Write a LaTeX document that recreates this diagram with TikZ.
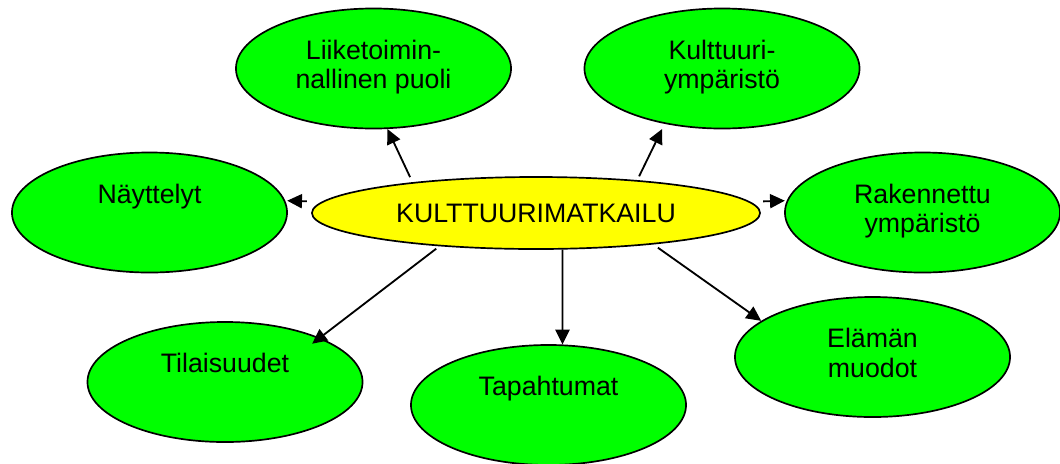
\documentclass[tikz,border=0pt]{standalone}
\usepackage{fontspec}
\setmainfont{Liberation Sans}
\usepackage{tikz}
\usetikzlibrary{arrows.meta, shapes.geometric}
\definecolor{mYellow}{HTML}{FFFF00}
\definecolor{mGreen}{HTML}{00FF00}

\begin{document}
\begin{tikzpicture}[x=0.025cm, y=-0.025cm,
      hub/.style={ellipse, draw, line width=1.2pt, fill=mYellow, minimum width=11.2cm, minimum height=1.8cm,
        font=\fontsize{19}{21}\selectfont, inner sep=0pt},
      topic/.style={ellipse, draw, line width=1.2pt, fill=mGreen, minimum width=6.875cm, minimum height=3cm},
      lbl/.style={font=\fontsize{19}{21}\selectfont, align=center, anchor=base, inner sep=0pt},
      arr/.style={-{Triangle[length=10.5pt, width=10pt]}, line width=1.3pt}]
    \useasboundingbox (0,0) rectangle (1060,463);
    % hub
    \node[hub] (hub) at (536,213) {KULTTUURIMATKAILU};
    % topics
    \node[topic] (liike)   at (373.5,68.5) {};
    \node[topic] (kultymp) at (722,68.5)   {};
    \node[topic] (nayt)    at (149.5,212.5) {};
    \node[topic] (rak)     at (922.5,212.5) {};
    \node[topic] (tila)    at (225,382)    {};
    \node[topic] (tapa)    at (548.5,405)  {};
    \node[topic] (elam)    at (872.5,357)  {};
    % labels (two-line ones sit on their last line)
    \node[lbl] (liike-t)   at ([yshift=-14.25pt]liike.center)   {Liiketoimin-\\nallinen puoli};
    \node[lbl] (kultymp-t) at ([yshift=-14.25pt]kultymp.center) {Kulttuuri-\\ympäristö};
    \node[lbl] (nayt-t)    at ([yshift=6.75pt]nayt.center)      {Näyttelyt};
    \node[lbl] (rak-t)     at ([yshift=-14.25pt]rak.center)     {Rakennettu\\ympäristö};
    \node[lbl] (tila-t)    at ([yshift=6.75pt]tila.center)      {Tilaisuudet};
    \node[lbl] (tapa-t)    at ([yshift=6.75pt]tapa.center)      {Tapahtumat};
    \node[lbl] (elam-t)    at ([yshift=-14.25pt]elam.center)    {Elämän\\muodot};
    % arrows
    \draw[arr, shorten <=4pt] (hub.166) -- (liike.283);
    \draw[arr, shorten <=3pt, shorten >=4pt] (hub.18) -- (kultymp.224);
    \draw[arr, shorten <=10.6pt, shorten >=1.4pt] (hub.177) -- (nayt.5);
    \draw[arr, shorten <=9.2pt, shorten >=1.4pt] (hub.3) -- (rak.175);
    \draw[arr, shorten <=2.8pt, shorten >=-7pt] (hub.199) -- (tila.25);
    \draw[arr] (hub.306) -- (tapa.77);
    \draw[arr, shorten <=4pt] (hub.345) -- (elam.162);
  \end{tikzpicture}
\end{document}
